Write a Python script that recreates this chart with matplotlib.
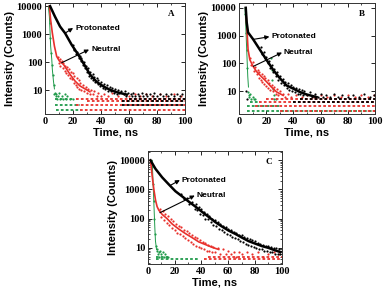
import matplotlib
matplotlib.use("Agg")
import matplotlib.pyplot as plt
from matplotlib.ticker import FixedLocator, MultipleLocator, LogLocator, NullFormatter

BLACK = "black"
RED = "#e8302c"
GREEN = "#1f9a4a"

# ---------------- Panel A ----------------
A_pro_t = [3.6, 7.1, 10.7, 14.3, 19.0, 23.8, 28.6, 32.1, 36.9, 41.7, 46.4, 51.2, 58.3]
A_pro = [10000, 4200, 1870, 1080, 415, 180, 72, 36, 19.5, 13.5, 10.2, 8.4, 6.9]
A_neu_t = [3.1, 4.0, 5.2, 6.7, 8.3, 10.2, 13.1, 15.5, 17.9, 21.4, 25.0, 28.6, 32.0]
A_neu = [10000, 3200, 1100, 370, 160, 110, 83, 55, 36, 21, 14, 11, 8.7]
A_irf_t = [2.4, 3.1, 3.6, 4.0, 4.8, 5.2, 6.0, 6.7]
A_irf = [9500, 4200, 1100, 370, 125, 55, 21, 11]

A_pro_sc_t = [20, 20.5, 21, 22, 23, 24, 25, 25.5, 26, 27, 28, 28.5, 29, 30, 31, 31.5, 32, 33, 34, 34.5,
              35, 36, 37, 37.5, 38, 39, 40, 41, 42, 43, 44, 45, 46, 47, 48, 49, 50, 51, 52, 53,
              54, 56, 57, 58, 59, 61, 62, 63, 64, 66, 67, 69, 70, 72, 73, 75, 77, 78, 80, 82,
              84, 86, 88, 90, 92, 94, 96, 98]
A_pro_sc = [400, 260, 300, 200, 230, 140, 170, 110, 140, 80, 100, 60, 75, 45, 60, 33, 45, 28, 38, 22,
            30, 19, 27, 16, 22, 14, 20, 12, 17, 11, 15, 9, 13, 9, 12, 8, 11, 7, 10, 8,
            9, 7, 9, 6, 8, 7, 6, 8, 6, 7, 6, 8, 6, 7, 6, 7, 6, 8, 6, 7,
            6, 7, 6, 7, 6, 7, 6, 7]
A_neu_sc_t = [9, 10, 10.5, 11, 12, 12.5, 13, 14, 14.5, 15, 16, 16.5, 17, 18, 18.5, 19, 20, 20.5, 21, 22,
              22.5, 23, 24, 24.5, 25, 26, 27, 28, 29, 30, 31, 32, 33, 34, 35, 37, 38, 40, 42, 45,
              48, 52, 56, 60, 64, 68, 72, 76, 82, 86, 92, 97]
A_neu_sc = [150, 90, 130, 70, 110, 60, 90, 50, 75, 40, 65, 35, 55, 28, 45, 24, 40, 18, 32, 15,
            28, 13, 22, 11, 18, 10, 15, 9, 13, 8, 11, 7, 10, 7, 9, 6, 8, 6, 7, 6,
            8, 6, 7, 6, 7, 6, 7, 6, 7, 6, 7, 6]
A_irf_sc_t = [3.3, 3.8, 4.4, 5.0, 5.6, 6.3, 6.5, 7, 7.5, 8, 8.5, 9, 10, 11, 12, 13, 14, 15, 16, 18, 20]
A_irf_sc = [2500, 700, 220, 80, 35, 15, 7, 8, 6, 7, 5, 6, 8, 5, 6, 5, 7, 5, 6, 5, 5]

# baseline count rows: (counts, from t, to t)
A_irf_rows = [(5, 7, 20), (3, 7, 25), (2, 8, 25)]
A_neu_rows = [(2, 25, 100), (3, 22, 100), (4, 30, 100), (5, 22, 100)]
A_pro_rows = [(3, 55, 100), (4, 55, 100), (5, 60, 100)]

# ---------------- Panel B ----------------
B_pro_t = [4.9, 5.6, 6.6, 10.3, 15.2, 20.1, 25.1, 30.0, 34.9, 39.8, 44.7, 49.6, 57.0]
B_pro = [10000, 3000, 1300, 740, 316, 135, 58, 29, 16, 12.3, 9.3, 7.6, 6.1]
B_neu_t = [4.9, 5.9, 6.6, 7.9, 10.3, 12.8, 16.5, 20.1, 23.8, 27.5, 32.4]
B_neu = [10000, 1300, 316, 135, 78, 51, 33, 22, 14, 9.4, 7]
B_irf_t = [4.4, 4.9, 5.4, 5.9, 6.4, 6.9]
B_irf = [10000, 2300, 560, 135, 33, 14]

B_pro_sc_t = [5.4, 6.0, 16, 17, 18, 19, 20, 21, 22, 23, 24, 25, 26, 27, 28, 29, 30, 31, 32, 33,
              34, 35, 36, 37, 38, 39, 40, 41, 42, 43, 44, 45, 46, 47, 48, 50, 52, 54, 56, 58,
              60, 62, 64, 67, 70, 73, 76, 80, 84, 88, 92, 96, 99]
B_pro_sc = [10, 5, 380, 220, 250, 150, 170, 100, 120, 70, 90, 48, 65, 35, 48, 26, 36, 20, 28, 16,
            22, 13, 19, 11, 16, 10, 14, 9, 13, 8, 12, 8, 11, 7, 10, 7, 9, 6, 8, 6,
            8, 6, 7, 6, 8, 6, 7, 6, 7, 6, 8, 6, 7]
B_neu_sc_t = [8, 9, 10, 11, 12, 13, 14, 14.5, 15, 16, 16.5, 17, 18, 18.5, 19, 20, 21, 21.5, 22, 23,
              24, 25, 26, 27, 28, 29, 30, 32, 34, 36, 38, 42, 46, 50, 55, 60, 65, 70, 75, 80,
              85, 90, 95, 99]
B_neu_sc = [150, 90, 110, 55, 75, 40, 60, 30, 48, 26, 42, 22, 36, 18, 30, 15, 26, 13, 20, 11,
            17, 10, 14, 8, 12, 7, 10, 8, 6, 8, 6, 7, 6, 7, 6, 7, 6, 7, 6, 7,
            6, 7, 6, 7]
B_irf_sc_t = [4.6, 5.1, 5.6, 6.1, 6.5, 7, 7.5, 8, 9, 10, 11, 12, 23.5, 24, 24.5, 25, 25.5, 26, 27]
B_irf_sc = [6000, 1200, 300, 70, 9, 7, 6, 8, 5, 6, 5, 5, 150, 60, 25, 12, 7, 5, 5]

B_irf_rows = [(2, 6, 100), (3, 6, 30), (4, 8, 14)]
B_neu_rows = [(3, 12, 100), (4, 15, 100), (5, 20, 100), (2, 30, 100)]
B_pro_rows = [(4, 40, 100), (5, 45, 100)]

# ---------------- Panel C ----------------
C_pro_t = [2.0, 5.7, 10.7, 15.6, 20.6, 25.6, 30.5, 35.5, 40.4, 45.4, 50.4, 55.3, 60.3, 65.3,
           70.2, 75.2, 80.1, 85.1, 90.0, 95.0, 98.8]
C_pro = [10000, 5100, 2600, 1500, 870, 580, 385, 260, 172, 115, 76, 54, 39, 30,
         22.5, 17, 14, 11.5, 10, 8.2, 7.2]
C_neu_t = [2.0, 3.2, 4.5, 5.7, 6.9, 8.2, 10.7, 14.4, 18.1, 23.1, 28.0, 33.0, 38.0, 42.9, 47.9, 52.9]
C_neu = [10000, 3000, 1000, 440, 260, 195, 140, 100, 66, 44, 31, 22.5, 16, 13, 10.5, 8.8]
C_irf_t = [3.2, 3.7, 4.2, 4.7, 5.2, 5.7, 6.5]
C_irf = [10000, 3000, 760, 195, 51, 17, 8.7]

C_pro_sc_t = [25, 27, 29, 31, 33, 35, 36, 37, 38, 39, 40, 41, 42, 43, 44, 45, 46, 47, 48, 49,
              50, 51, 52, 53, 54, 55, 56, 57, 58, 59, 60, 61, 62, 63, 64, 65, 66, 67, 68, 69,
              70, 71, 72, 73, 74, 75, 76, 77, 78, 79, 80, 81, 82, 83, 84, 85, 86, 87, 88, 89,
              90, 91, 92, 93, 94, 95, 96, 97, 98, 99, 100]
C_pro_sc = [700, 480, 520, 330, 380, 220, 320, 200, 260, 150, 210, 130, 170, 100, 140, 95, 125, 75, 100, 62,
            90, 55, 75, 45, 65, 42, 58, 36, 50, 30, 46, 28, 40, 24, 36, 22, 32, 20, 28, 17,
            27, 16, 24, 14, 22, 13, 20, 12, 18, 11, 17, 10, 15, 9, 14, 9, 13, 8, 12, 8,
            12, 7, 11, 7, 10, 6, 10, 6, 9, 6, 8]
C_neu_sc_t = [9, 10, 11, 12, 13, 14, 15, 16, 17, 18, 19, 20, 21, 22, 23, 24, 25, 26, 27, 28,
              29, 30, 31, 32, 33, 34, 35, 36, 37, 38, 39, 40, 41, 42, 43, 44, 45, 46, 47, 48,
              49, 50, 52, 54, 56, 58, 60, 62, 64, 66, 68, 70, 74, 78, 82, 86, 90, 94, 98]
C_neu_sc = [220, 110, 180, 90, 140, 70, 120, 60, 95, 48, 80, 40, 65, 33, 58, 30, 50, 26, 42, 22,
            38, 19, 32, 16, 28, 14, 24, 12, 21, 11, 18, 10, 16, 9, 15, 8, 13, 8, 12, 7,
            11, 7, 10, 6, 9, 6, 8, 6, 7, 5, 7, 6, 7, 6, 7, 5, 6, 7, 6]
C_irf_sc_t = [3.4, 3.9, 4.4, 4.9, 5.4, 6.0, 6.5, 7, 7.5, 8, 8.5, 9, 10, 11, 12, 13, 14, 15]
C_irf_sc = [6000, 1600, 400, 100, 30, 12, 9, 8, 6, 7, 5, 8, 6, 7, 5, 6, 5, 5]

C_irf_rows = [(4, 6, 38), (5, 6, 15)]
C_neu_rows = [(4, 42, 100), (5, 45, 100)]
C_pro_rows = []

x_ticks = [0, 20, 40, 60, 80, 100]
y_ticks = [10, 100, 1000, 10000]
y_tick_labels = ["10", "100", "1000", "10000"]

plt.rcParams["font.family"] = ["Liberation Sans", "DejaVu Sans"]
fig = plt.figure(figsize=(3.85, 2.93), dpi=100)


def draw_panel(rect, letter, series, rows, ylim, arrows):
    ax = fig.add_axes(rect)
    for color, lw, (t, y), (st, sy) in series:
        ax.scatter(st, sy, s=2.5, color=color, linewidths=0, zorder=2)
        ax.plot(t, y, "-", color=color, lw=lw, zorder=3)
    for color, rr in rows:
        for level, t0, t1 in rr:
            ax.hlines(level, t0, t1, colors=color, lw=1.3, linestyles=(0, (1.5, 1.2)), zorder=2)
    ax.set_yscale("log")
    ax.set_xlim(0, 100)
    ax.set_ylim(*ylim)
    ax.xaxis.set_major_locator(FixedLocator(x_ticks))
    ax.xaxis.set_minor_locator(MultipleLocator(10))
    ax.yaxis.set_major_locator(FixedLocator(y_ticks))
    ax.set_yticklabels(y_tick_labels)
    ax.yaxis.set_minor_locator(LogLocator(base=10, subs=range(2, 10)))
    ax.yaxis.set_minor_formatter(NullFormatter())
    ax.tick_params(which="both", direction="in", top=True, right=True, pad=2)
    ax.tick_params(which="major", length=3, width=0.6)
    ax.tick_params(which="minor", length=1.5, width=0.5)
    for lab in ax.get_xticklabels() + ax.get_yticklabels():
        lab.set_fontfamily("Liberation Serif")
        lab.set_fontweight("bold")
        lab.set_fontsize(7.5)
    for sp in ax.spines.values():
        sp.set_linewidth(0.7)
        sp.set_color("#333333")
    ax.set_xlabel("Time, ns", fontsize=8, fontweight="bold", labelpad=1)
    ax.set_ylabel("Intensity (Counts)", fontsize=8, fontweight="bold", labelpad=1)
    ax.text(0.9, 0.9, letter, transform=ax.transAxes, fontsize=6.5, fontweight="bold",
            family="Liberation Serif", ha="center", va="center")
    for text, tail, head, pos in arrows:
        ax.annotate("", xy=head, xytext=tail,
                    arrowprops=dict(arrowstyle="-|>", lw=0.8, color="black",
                                    mutation_scale=6, shrinkA=0, shrinkB=0), zorder=5)
        ax.text(pos[0], pos[1], text, fontsize=6, fontweight="bold", ha="left", va="center", zorder=5)
    return ax


draw_panel([0.117, 0.611, 0.364, 0.379], "A",
           [(GREEN, 0.7, (A_irf_t, A_irf), (A_irf_sc_t, A_irf_sc)),
            (RED, 1.2, (A_neu_t, A_neu), (A_neu_sc_t, A_neu_sc)),
            (BLACK, 1.8, (A_pro_t, A_pro), (A_pro_sc_t, A_pro_sc))],
           [(GREEN, A_irf_rows), (RED, A_neu_rows), (BLACK, A_pro_rows)],
           (1.4, 13000),
           [("Protonated", (14.3, 1080), (20.0, 1650), (21.5, 1650)),
            ("Neutral", (11.9, 95), (31.4, 280), (32.8, 290))])

draw_panel([0.621, 0.611, 0.353, 0.379], "B",
           [(GREEN, 0.7, (B_irf_t, B_irf), (B_irf_sc_t, B_irf_sc)),
            (RED, 1.2, (B_neu_t, B_neu), (B_neu_sc_t, B_neu_sc)),
            (BLACK, 1.8, (B_pro_t, B_pro), (B_pro_sc_t, B_pro_sc))],
           [(GREEN, B_irf_rows), (RED, B_neu_rows), (BLACK, B_pro_rows)],
           (1.5, 15000),
           [("Protonated", (10.5, 730), (22.3, 910), (24.0, 910)),
            ("Neutral", (10.5, 78), (31.6, 245), (33.0, 250))])

draw_panel([0.384, 0.099, 0.348, 0.386], "C",
           [(GREEN, 0.7, (C_irf_t, C_irf), (C_irf_sc_t, C_irf_sc)),
            (RED, 1.2, (C_neu_t, C_neu), (C_neu_sc_t, C_neu_sc)),
            (BLACK, 1.8, (C_pro_t, C_pro), (C_pro_sc_t, C_pro_sc))],
           [(GREEN, C_irf_rows), (RED, C_neu_rows), (BLACK, C_pro_rows)],
           (2.8, 21000),
           [("Protonated", (16.4, 1350), (23.9, 2100), (25.2, 2100)),
            ("Neutral", (9.0, 160), (35.0, 620), (36.3, 640))])

fig.savefig("out.png", dpi=100)
